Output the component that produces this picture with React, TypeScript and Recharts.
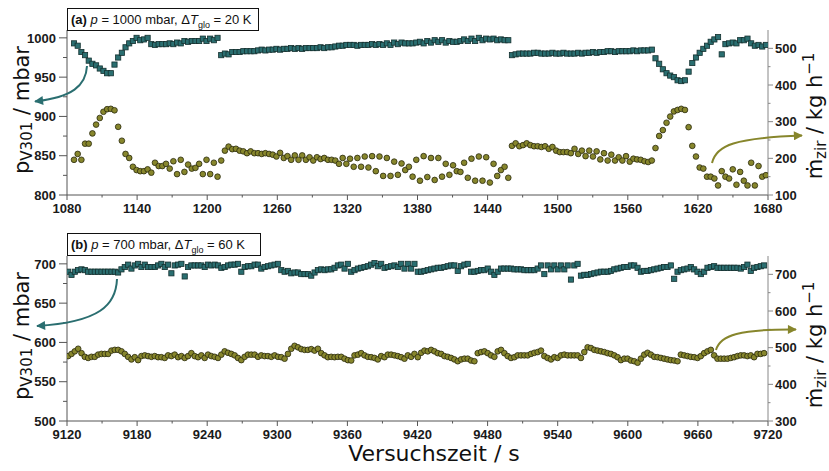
import React from 'react';
import { ComposedChart, Scatter, XAxis, YAxis } from 'recharts';

// Abtastung: Startzeit und Schrittweite je Ausschnitt (s)
const startA = 1086;
const schrittA = 3.15;
const startB = 9121;
const schrittB = 2.85;

// (a) p = 1000 mbar – Druck pV301 (mbar)
const druckA = [
  993, 990, 982, 978, 971, 967, 965, 961, 958, 955, 955, 966, 975, 981, 988, 993, 996, 1000, 997, 998, 1000,
  992, 991, 992, 992, 992, 993, 992, 994, 993, 996, 995, 996, 996, 996, 999, 996, 999, 997, 1000,
  978, 980, 979, 982, 982, 982, 983, 983, 983, 983, 984, 985, 984, 985, 985, 986, 985, 986, 986, 987,
  986, 987, 986, 987, 987, 987, 987, 988, 987, 988,
  988, 989, 990, 990, 991, 991, 991, 990, 991, 991, 991, 992, 991, 992, 991, 993, 991, 994, 992, 994,
  993, 993, 993, 994, 995, 993, 996, 994, 997, 995, 997, 994, 996, 995, 995, 996, 998, 996, 999, 996,
  1000, 997, 999, 998, 999, 997, 998, 997, 997,
  978, 979, 980, 980, 980, 980, 981, 981, 980, 980, 980, 981, 980, 980,
  981, 980, 980, 980, 981, 980, 981, 981, 982, 981, 982, 982, 983, 983, 982, 983, 983, 983, 983, 984,
  983, 984, 984, 984, 985,
  974, 967, 960, 955, 952, 950, 946, 945, 946, 957, 968, 975, 981, 986, 990, 995, 998, 1001, 979, 992,
  993, 994, 993, 997, 997, 999, 993, 990, 991, 989, 991,
];

// (a) Massenstrom m_zir (kg/h)
const massA = [
  196, 212, 196, 240, 240, 268, 292, 310, 327, 334, 335, 331, 286, 248, 212, 201, 177, 168, 165, 165,
  170, 161, 188, 179, 179, 185, 172, 192, 157, 196, 163, 183, 172, 174, 185, 157, 196, 157, 188, 150,
  194, 221, 232, 225, 226, 221, 219, 214, 219, 214, 214, 212, 214, 212, 210, 205, 215, 201, 206, 196,
  208, 196, 208, 196, 203, 194, 203, 198, 201, 196,
  196, 194, 185, 201, 185, 199, 177, 201, 177, 205, 175, 206, 165, 205, 152, 201, 152, 191, 155, 186,
  168, 177, 150, 196, 139, 206, 149, 201, 141, 201, 150, 185, 155, 181, 165, 163, 188, 147, 199, 139,
  205, 139, 203, 134, 185, 152, 168, 177, 147,
  234, 241, 233, 236, 241, 236, 233, 233, 231, 233, 226, 231, 221,
  217, 217, 217, 214, 226, 212, 221, 206, 221, 205, 219, 197, 214, 194, 210, 194, 203, 194, 206, 191,
  199, 197, 196, 192, 190, 194,
  228, 261, 277, 297, 314, 328, 332, 335, 332, 285, 234, 205, 175, 172, 150, 150, 145, 126, 165, 150,
  145, 170, 128, 163, 139, 126, 188, 126, 179, 150, 154,
];

// (b) p = 700 mbar – Druck pV301 (mbar)
const druckB = [
  690, 686, 690, 692, 693, 692, 690, 690, 690, 690, 690, 690, 690, 690, 690, 689, 693, 696, 699, 694,
  698, 700, 696, 699, 696, 696, 696, 698, 700, 696, 699, 688, 698, 699, 700, 684, 696, 698, 698, 698,
  698, 696, 699, 698, 699, 698, 695, 696, 698, 699, 699, 700, 690, 696, 697, 697, 699, 699, 694, 696,
  697, 698, 699, 700, 692, 690, 691, 688, 689, 689, 687, 687, 687, 685, 689, 692, 693, 692, 693, 693,
  695, 698,
  699, 694, 700, 690, 692, 694, 695, 696, 697, 699, 701, 697, 700, 695, 696, 697, 698, 696, 700, 694,
  700, 694, 700, 690, 690, 691, 692, 693, 694, 695, 695, 696, 697, 698, 698, 691, 697, 699, 700, 690,
  690, 691, 692, 692, 694, 690, 686, 690, 694, 694, 694, 694, 693, 693, 693, 692, 692, 692, 692, 694,
  698, 687, 698, 693, 698, 693, 698, 693, 698, 680, 698,
  700, 685, 686, 686, 687, 688, 689, 690, 690, 690, 691, 693, 694, 695, 696, 696, 698, 698, 695, 690,
  691, 691, 692, 693, 694, 695, 696, 696, 698, 681, 690, 692, 693, 694, 696, 693, 690, 687, 690, 695,
  696, 697, 695, 695, 695, 695, 695, 695, 695, 694, 696, 699, 691, 695, 696, 697, 698,
];

// (b) Massenstrom m_zir (kg/h)
const massB = [
  477, 483, 490, 497, 485, 475, 472, 475, 475, 481, 483, 483, 483, 492, 494, 494, 490, 483, 475, 468,
  474, 466, 477, 479, 477, 475, 477, 474, 474, 472, 479, 477, 481, 474, 477, 472, 477, 485, 477, 474,
  479, 472, 481, 477, 475, 472, 481, 490, 486, 483, 479, 472, 466, 475, 481, 481, 481, 475, 479, 477,
  477, 475, 479, 475, 474, 470, 483, 497, 505, 501, 496, 494, 494, 496, 492, 497, 485, 479, 474, 475,
  474, 475,
  475, 470, 466, 465, 479, 481, 485, 479, 475, 474, 472, 468, 477, 474, 481, 481, 479, 477, 474, 470,
  479, 475, 483, 474, 486, 492, 490, 494, 490, 485, 483, 477, 475, 472, 468, 463, 468, 470, 470, 465,
  463, 485, 488, 490, 485, 479, 475, 490, 494, 485, 477, 472, 474, 479, 479, 479, 479, 483, 486, 488,
  492, 477, 472, 468, 474, 472, 479, 481, 479, 479, 479,
  479, 472, 488, 501, 499, 494, 492, 490, 488, 485, 483, 479, 474, 466, 470, 470, 465, 463, 459, 470,
  481, 486, 481, 475, 474, 472, 470, 468, 466, 465, 463, 481, 479, 477, 475, 474, 472, 477, 485, 490,
  494, 479, 470, 470, 470, 470, 472, 474, 477, 479, 479, 477, 479, 474, 483, 483, 485,
];

// Achsenteilung (Haupt- und Nebenstriche)
const xTicksA = [1080, 1110, 1140, 1170, 1200, 1230, 1260, 1290, 1320, 1350, 1380, 1410, 1440, 1470, 1500, 1530, 1560, 1590, 1620, 1650, 1680];
const xTicksB = [9120, 9150, 9180, 9210, 9240, 9270, 9300, 9330, 9360, 9390, 9420, 9450, 9480, 9510, 9540, 9570, 9600, 9630, 9660, 9690, 9720];
const druckTicksA = [800, 825, 850, 875, 900, 925, 950, 975, 1000];
const druckTicksB = [500, 525, 550, 575, 600, 625, 650, 675, 700];
const massTicksA = [100, 150, 200, 250, 300, 350, 400, 450, 500];
const massTicksB = [300, 350, 400, 450, 500, 550, 600, 650, 700];

const teal = '#2a6e70';
const olive = '#87862c';
const achse = '#555';

const punkte = (start: number, schritt: number, werte: number[]) =>
  werte.map((y, i) => ({ x: start + i * schritt, y }));

const tickFont = {
  fontFamily: '"Liberation Sans", Arial, sans-serif',
  fontSize: 13,
  fontWeight: 700,
  fill: '#1a1a1a',
};

type Seite = 'left' | 'right' | 'bottom';

const makeTick = (seite: Seite, size: number, gap: number, isMajor: (v: number) => boolean, farbe: string) =>
  (props: any) => {
    const { x, y, payload } = props;
    const v = payload.value;
    const major = isMajor(v);
    const len = major ? size : size / 2;
    if (seite === 'left') {
      const ax = x + size + gap;
      return (
        <g>
          <line x1={ax - len} y1={y} x2={ax} y2={y} stroke={farbe} />
          {major && <text x={x} y={y} dy="0.36em" textAnchor="end" {...tickFont}>{v}</text>}
        </g>
      );
    }
    if (seite === 'right') {
      const ax = x - size - gap;
      return (
        <g>
          <line x1={ax} y1={y} x2={ax + len} y2={y} stroke={farbe} />
          {major && <text x={x} y={y} dy="0.36em" textAnchor="start" {...tickFont}>{v}</text>}
        </g>
      );
    }
    const ay = y - size - gap;
    return (
      <g>
        <line x1={x} y1={ay} x2={x} y2={ay + len} stroke={farbe} />
        {major && <text x={x} y={y} dy="0.72em" textAnchor="middle" {...tickFont}>{v}</text>}
      </g>
    );
  };

const Quadrat = (props: any) => {
  const { cx, cy } = props;
  if (cx == null || cy == null) return <g />;
  return <rect x={cx - 2.6} y={cy - 2.6} width={5.2} height={5.2} fill={teal} stroke="#14302f" strokeWidth={0.8} />;
};

const Kreis = (props: any) => {
  const { cx, cy } = props;
  if (cx == null || cy == null) return <g />;
  return <circle cx={cx} cy={cy} r={2.85} fill={olive} stroke="#2a2a0e" strokeWidth={0.8} />;
};

interface PanelProps {
  xDomain: [number, number];
  xTicks: number[];
  druckDomain: [number, number];
  druckTicks: number[];
  massDomain: [number, number];
  massTicks: number[];
  druck: { x: number; y: number }[];
  mass: { x: number; y: number }[];
}

const Panel: React.FC<PanelProps> = ({ xDomain, xTicks, druckDomain, druckTicks, massDomain, massTicks, druck, mass }) => {
  const x0 = xDomain[0];
  return (
    <ComposedChart width={829} height={225} margin={{ top: 30, right: 0, bottom: 0, left: 0 }}>
      <XAxis
        xAxisId="oben"
        orientation="top"
        type="number"
        domain={xDomain}
        height={0}
        tick={false}
        tickLine={false}
        axisLine={{ stroke: '#111' }}
      />
      <XAxis
        dataKey="x"
        type="number"
        domain={xDomain}
        ticks={xTicks}
        interval={0}
        allowDataOverflow
        height={30}
        tickSize={5}
        tickMargin={4}
        tickLine={false}
        axisLine={{ stroke: achse }}
        tick={makeTick('bottom', 5, 4, (v) => (v - x0) % 60 === 0, achse)}
      />
      <YAxis
        yAxisId="l"
        dataKey="y"
        orientation="left"
        type="number"
        width={67}
        domain={druckDomain}
        ticks={druckTicks}
        interval={0}
        allowDataOverflow
        tickSize={8}
        tickMargin={3}
        tickLine={false}
        axisLine={{ stroke: achse }}
        tick={makeTick('left', 8, 3, (v) => v % 50 === 0, achse)}
      />
      <YAxis
        yAxisId="r"
        dataKey="y"
        orientation="right"
        type="number"
        width={61}
        domain={massDomain}
        ticks={massTicks}
        interval={0}
        allowDataOverflow
        tickSize={5}
        tickMargin={2}
        tickLine={false}
        axisLine={{ stroke: '#888' }}
        tick={makeTick('right', 5, 2, (v) => v % 100 === 0, '#888')}
      />
      <Scatter data={druck} yAxisId="l" shape={Quadrat} isAnimationActive={false} />
      <Scatter data={mass} yAxisId="r" shape={Kreis} isAnimationActive={false} />
    </ComposedChart>
  );
};

const boxStyle: React.CSSProperties = {
  position: 'absolute',
  left: 67,
  height: 23,
  boxSizing: 'border-box',
  border: '1px solid #111',
  background: '#fff',
  fontFamily: '"Liberation Sans", Arial, sans-serif',
  fontSize: 13,
  lineHeight: '21px',
  paddingLeft: 3,
  whiteSpace: 'nowrap',
  color: '#111',
};

const Titel = ({ tag, p, dt }: { tag: string; p: string; dt: string }) => (
  <span>
    <b>({tag})</b> <i>p</i> = {p} mbar, Δ<i>T</i>
    <sub style={{ fontSize: 9 }}>glo</sub> = {dt} K
  </span>
);

const App: React.FC = () => {
  const titelFont = { fontFamily: '"DejaVu Sans", sans-serif', fill: '#111' };
  return (
    <div style={{ position: 'absolute', left: 0, top: 0, width: 829, height: 471, background: '#fff', overflow: 'hidden' }}>
      <div style={{ position: 'absolute', left: 0, top: 0 }}>
        <Panel
          xDomain={[1080, 1680]}
          xTicks={xTicksA}
          druckDomain={[800, 1010]}
          druckTicks={druckTicksA}
          massDomain={[100, 550]}
          massTicks={massTicksA}
          druck={punkte(startA, schrittA, druckA)}
          mass={punkte(startA, schrittA, massA)}
        />
      </div>
      <div style={{ position: 'absolute', left: 0, top: 226 }}>
        <Panel
          xDomain={[9120, 9720]}
          xTicks={xTicksB}
          druckDomain={[500, 710]}
          druckTicks={druckTicksB}
          massDomain={[300, 750]}
          massTicks={massTicksB}
          druck={punkte(startB, schrittB, druckB)}
          mass={punkte(startB, schrittB, massB)}
        />
      </div>
      <div style={{ ...boxStyle, top: 8, width: 192 }}>
        <Titel tag="a" p="1000" dt="20" />
      </div>
      <div style={{ ...boxStyle, top: 233, width: 194 }}>
        <Titel tag="b" p="700" dt="60" />
      </div>
      <svg width={829} height={471} style={{ position: 'absolute', left: 0, top: 0, pointerEvents: 'none' }}>
        <defs>
          <marker id="spitzeTeal" viewBox="0 0 10 10" refX="9" refY="5" markerWidth="5" markerHeight="4.5" orient="auto">
            <path d="M0,0 L10,5 L0,10 z" fill={teal} />
          </marker>
          <marker id="spitzeOlive" viewBox="0 0 10 10" refX="9" refY="5" markerWidth="5" markerHeight="4.5" orient="auto">
            <path d="M0,0 L10,5 L0,10 z" fill={olive} />
          </marker>
        </defs>
        <path d="M 87 66 C 86 86, 72 97, 35 101.5" fill="none" stroke={teal} strokeWidth={2} markerEnd="url(#spitzeTeal)" />
        <path d="M 712 163 C 716 145, 735 138, 802 135.5" fill="none" stroke={olive} strokeWidth={2} markerEnd="url(#spitzeOlive)" />
        <path d="M 117 279 C 116 305, 100 322, 37 326" fill="none" stroke={teal} strokeWidth={2} markerEnd="url(#spitzeTeal)" />
        <path d="M 716 350 C 720 335, 740 329, 796 329.5" fill="none" stroke={olive} strokeWidth={2} markerEnd="url(#spitzeOlive)" />

        <text transform="translate(29,110) rotate(-90)" textAnchor="middle" fontSize={21} {...titelFont}>
          p<tspan fontSize={15} dy={3}>V301</tspan>
          <tspan dy={-3}> / mbar</tspan>
        </text>
        <text transform="translate(29,336) rotate(-90)" textAnchor="middle" fontSize={21} {...titelFont}>
          p<tspan fontSize={15} dy={3}>V301</tspan>
          <tspan dy={-3}> / mbar</tspan>
        </text>
        <text transform="translate(822,116) rotate(-90)" textAnchor="middle" fontSize={21} {...titelFont}>
          ṁ<tspan fontSize={15} dy={4}>zir</tspan>
          <tspan dy={-4}> / kg h</tspan>
          <tspan fontSize={15} dy={-8}>−1</tspan>
        </text>
        <text transform="translate(822,345) rotate(-90)" textAnchor="middle" fontSize={21} {...titelFont}>
          ṁ<tspan fontSize={15} dy={4}>zir</tspan>
          <tspan dy={-4}> / kg h</tspan>
          <tspan fontSize={15} dy={-8}>−1</tspan>
        </text>
        <text x={434} y={461} textAnchor="middle" fontSize={22} {...titelFont}>
          Versuchszeit / s
        </text>
      </svg>
    </div>
  );
};

export default App;
